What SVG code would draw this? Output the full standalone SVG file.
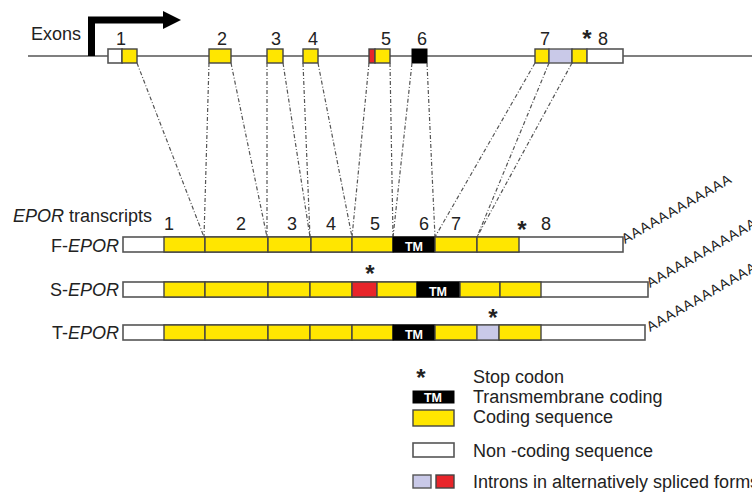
<svg xmlns="http://www.w3.org/2000/svg" width="752" height="492" viewBox="0 0 752 492">
<style>
text{font-family:"Liberation Sans",Arial,sans-serif;fill:#222}
.lbl{font-size:18px}
.num{font-size:18px;text-anchor:middle}
.star{font-size:24px;font-weight:bold;text-anchor:middle}
.it{font-style:italic}
.leg{font-size:18px}
.tm{font-size:12.5px;font-weight:bold;fill:#fff;text-anchor:middle}
.poly{font-size:14px}
.y{fill:#FFE600;stroke:#444;stroke-width:1.4}
.w{fill:#fff;stroke:#555;stroke-width:1.6}
.k{fill:#000;stroke:#000;stroke-width:1}
.r{fill:#E8252A;stroke:#444;stroke-width:1.4}
.l{fill:#C9C9E8;stroke:#555;stroke-width:1.4}
.dl{stroke:#555;stroke-width:1.2;stroke-dasharray:4 2 1 2;fill:none}
</style>

<g id="gene">
  <line x1="28" y1="56" x2="752" y2="56" stroke="#555" stroke-width="1.5"/>
  <text class="lbl" x="31" y="40">Exons</text>
  <g id="promoter">
    <path d="M91.5 56 V20 H166" fill="none" stroke="#000" stroke-width="7"/>
    <polygon points="163,11 181,20 163,29" fill="#000"/>
  </g>
  <g id="exon1"><rect class="w" x="108" y="49" width="14" height="14"/><rect class="y" x="122" y="49" width="15" height="14"/><text class="num" x="121" y="45">1</text></g>
  <g id="exon2"><rect class="y" x="209" y="49" width="22" height="14"/><text class="num" x="222" y="45">2</text></g>
  <g id="exon3"><rect class="y" x="267" y="49" width="16" height="14"/><text class="num" x="276" y="45">3</text></g>
  <g id="exon4"><rect class="y" x="303" y="49" width="15" height="14"/><text class="num" x="313" y="45">4</text></g>
  <g id="exon5"><rect class="r" x="369" y="49" width="6" height="14"/><rect class="y" x="375" y="49" width="15" height="14"/><text class="num" x="386" y="45">5</text></g>
  <g id="exon6"><rect class="k" x="412" y="49" width="15" height="14"/><text class="num" x="422" y="45">6</text></g>
  <g id="exon7"><rect class="y" x="535" y="49" width="14" height="14"/><text class="num" x="545" y="45">7</text></g>
  <g id="exon8"><rect class="l" x="549" y="49" width="23" height="14"/><rect class="y" x="572" y="49" width="15" height="14"/><rect class="w" x="587" y="49" width="36" height="14"/><text class="star" x="587" y="47">*</text><text class="num" x="603" y="45">8</text></g>
</g>

<g id="connectors">
  <line class="dl" x1="137" y1="63" x2="204" y2="237"/>
  <line class="dl" x1="209" y1="63" x2="204" y2="237"/>
  <line class="dl" x1="231" y1="63" x2="267" y2="237"/>
  <line class="dl" x1="267" y1="63" x2="267" y2="237"/>
  <line class="dl" x1="283" y1="63" x2="310" y2="237"/>
  <line class="dl" x1="303" y1="63" x2="310" y2="237"/>
  <line class="dl" x1="318" y1="63" x2="352" y2="237"/>
  <line class="dl" x1="369" y1="63" x2="352" y2="237"/>
  <line class="dl" x1="390" y1="63" x2="393" y2="237"/>
  <line class="dl" x1="412" y1="63" x2="393" y2="237"/>
  <line class="dl" x1="427" y1="63" x2="435" y2="237"/>
  <line class="dl" x1="535" y1="63" x2="435" y2="237"/>
  <line class="dl" x1="549" y1="63" x2="477" y2="237"/>
  <line class="dl" x1="572" y1="63" x2="477" y2="237"/>
</g>

<g id="transcripts-header">
  <text class="lbl" x="13" y="222"><tspan class="it">EPOR</tspan> transcripts</text>
  <text class="num" x="169" y="230">1</text>
  <text class="num" x="241" y="230">2</text>
  <text class="num" x="292" y="230">3</text>
  <text class="num" x="331" y="230">4</text>
  <text class="num" x="375" y="230">5</text>
  <text class="num" x="424" y="230">6</text>
  <text class="num" x="456" y="230">7</text>
  <text class="star" x="522" y="238">*</text>
  <text class="num" x="546" y="230">8</text>
</g>

<g id="F-EPOR">
  <text class="lbl" x="119" y="252" text-anchor="end">F-<tspan class="it">EPOR</tspan></text>
  <rect class="w" x="123" y="237" width="500" height="15"/>
  <rect class="y" x="164" y="237" width="41" height="15"/>
  <rect class="y" x="205" y="237" width="63" height="15"/>
  <rect class="y" x="268" y="237" width="43" height="15"/>
  <rect class="y" x="311" y="237" width="41" height="15"/>
  <rect class="y" x="352" y="237" width="41" height="15"/>
  <rect class="k" x="393" y="237" width="42" height="15"/>
  <text class="tm" x="414" y="251">TM</text>
  <rect class="y" x="435" y="237" width="42" height="15"/>
  <rect class="y" x="477" y="237" width="42" height="15"/>
  <text class="poly" transform="translate(625 244) rotate(-30)" textLength="124">AAAAAAAAAAAA</text>
</g>

<g id="S-EPOR">
  <text class="lbl" x="119" y="296" text-anchor="end">S-<tspan class="it">EPOR</tspan></text>
  <rect class="w" x="123" y="282" width="525" height="15"/>
  <rect class="y" x="164" y="282" width="41" height="15"/>
  <rect class="y" x="205" y="282" width="63" height="15"/>
  <rect class="y" x="268" y="282" width="42" height="15"/>
  <rect class="y" x="310" y="282" width="42" height="15"/>
  <rect class="r" x="352" y="282" width="25" height="15"/>
  <text class="star" x="370" y="282">*</text>
  <rect class="y" x="377" y="282" width="40" height="15"/>
  <rect class="k" x="417" y="282" width="43" height="15"/>
  <text class="tm" x="438" y="296">TM</text>
  <rect class="y" x="460" y="282" width="40" height="15"/>
  <rect class="y" x="500" y="282" width="41" height="15"/>
  <text class="poly" transform="translate(650 288) rotate(-30)" textLength="124">AAAAAAAAAAAA</text>
</g>

<g id="T-EPOR">
  <text class="lbl" x="119" y="339" text-anchor="end">T-<tspan class="it">EPOR</tspan></text>
  <rect class="w" x="123" y="325" width="522" height="15"/>
  <rect class="y" x="164" y="325" width="41" height="15"/>
  <rect class="y" x="205" y="325" width="63" height="15"/>
  <rect class="y" x="268" y="325" width="42" height="15"/>
  <rect class="y" x="310" y="325" width="42" height="15"/>
  <rect class="y" x="352" y="325" width="41" height="15"/>
  <rect class="k" x="393" y="325" width="42" height="15"/>
  <text class="tm" x="414" y="339">TM</text>
  <rect class="y" x="435" y="325" width="42" height="15"/>
  <rect class="l" x="477" y="325" width="22" height="15"/>
  <text class="star" x="493" y="326">*</text>
  <rect class="y" x="499" y="325" width="42" height="15"/>
  <text class="poly" transform="translate(650 332) rotate(-30)" textLength="124">AAAAAAAAAAAA</text>
</g>

<g id="legend">
  <text class="star" x="421" y="386">*</text>
  <text class="leg" x="473" y="383">Stop codon</text>
  <rect class="k" x="413" y="391" width="41" height="12"/>
  <text class="tm" x="433" y="402">TM</text>
  <text class="leg" x="473" y="403">Transmembrane coding</text>
  <rect class="y" x="413" y="410" width="41" height="16"/>
  <text class="leg" x="473" y="423">Coding sequence</text>
  <rect class="w" x="413" y="443" width="41" height="14"/>
  <text class="leg" x="473" y="457">Non -coding sequence</text>
  <rect class="l" x="413" y="475" width="18" height="13"/>
  <rect class="r" x="436" y="475" width="18" height="13"/>
  <text class="leg" x="473" y="488">Introns in alternatively spliced forms</text>
</g>
</svg>
